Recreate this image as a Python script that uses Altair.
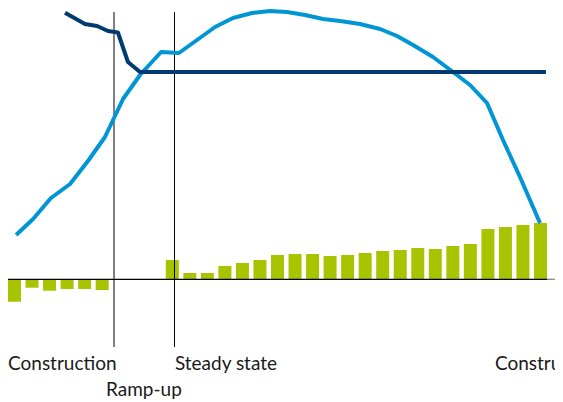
import altair as alt
import pandas as pd

# ---- data (x in period units, y in value units; baseline = 0) ----
bar_period = [0, 1, 2, 3, 4, 5, 9, 10, 11, 12, 13, 14, 15, 16, 17, 18, 19, 20,
              21, 22, 23, 24, 25, 26, 27, 28, 29, 30]
bar_value = [-22.4, -8.4, -11.4, -9.7, -9.7, -10.7, 19.3, 6.3, 6.3, 13.3, 16.3,
             19.3, 24.3, 25.3, 25.3, 23.3, 24.3, 26.3, 28.3, 29.3, 31.3, 30.3,
             33.3, 35.3, 50.3, 52.3, 54.3, 56.3]

light_x = [0.09, 1.06, 2.08, 3.17, 4.19, 5.16, 6.19, 7.16, 8.36, 9.38, 11.44,
           12.46, 13.55, 14.57, 15.54, 16.57, 17.6, 18.57, 19.71, 20.85, 21.82,
           22.73, 23.87, 25.01, 25.98, 26.95, 27.86, 28.83, 29.97]
light_y = [44.3, 60.3, 81.3, 95.3, 118.3, 142.3, 180.3, 204.3, 227.3, 226.3,
           252.3, 261.3, 266.3, 268.3, 267.3, 264.3, 260.3, 258.3, 255.3, 250.3,
           243.3, 234.3, 222.3, 207.3, 194.3, 176.3, 139.3, 102.3, 56.3]

dark_x = [2.88, 4.02, 4.71, 5.33, 5.9, 6.47, 7.16, 30.31]
dark_y = [266.6, 255.3, 253.3, 248.3, 246.8, 217.3, 207.3, 207.3]

phase_lines = [5.675, 9.125]
phase_top, phase_bottom = 267.3, -67.7

labels = ["Construction", "Ramp-up", "Steady state", "Construction"]
label_x = [-0.37, 5.22, 9.15, 27.4]
label_y = [-90.7, -116.7, -90.7, -90.7]

X0, X1 = -0.3707, 30.827
Y0, Y1 = -122.7, 271.3

GREEN = "#a8c400"
LIGHT = "#0096d6"
DARK = "#003a70"

xs = alt.Scale(domain=[X0, X1], nice=False, zero=False, padding=0)
ys = alt.Scale(domain=[Y0, Y1], nice=False, zero=False, padding=0)

bars_df = pd.DataFrame({"x": bar_period, "y": bar_value, "base": [0] * len(bar_period)})
light_df = pd.DataFrame({"x": light_x, "y": light_y, "o": list(range(len(light_x)))})
dark_df = pd.DataFrame({"x": dark_x, "y": dark_y, "o": list(range(len(dark_x)))})
phase_df = pd.DataFrame({"x": phase_lines, "y": [phase_top] * 2, "y2": [phase_bottom] * 2})
base_df = pd.DataFrame({"x": [X0, 30.4], "x2": [30.4, X1], "y": [0, 0],
                        "c": ["black", "gray"]})
label_df = pd.DataFrame({"label": labels, "x": label_x, "y": label_y})

X = lambda f="x": alt.X(f"{f}:Q", scale=xs, axis=None)
Y = lambda f="y": alt.Y(f"{f}:Q", scale=ys, axis=None)

bars = alt.Chart(bars_df).mark_bar(size=13, color=GREEN).encode(
    x=X(), y=Y(), y2="base:Q")

baseline = alt.Chart(base_df).mark_rule(strokeWidth=1.3).encode(
    x=X(), x2="x2:Q", y=Y(),
    color=alt.Color("c:N", scale=alt.Scale(domain=["black", "gray"],
                                           range=["#000000", "#8a8a8a"]), legend=None))

phases = alt.Chart(phase_df).mark_rule(color="black", strokeWidth=1).encode(
    x=X(), y=Y(), y2="y2:Q")

light = alt.Chart(light_df).mark_line(color=LIGHT, strokeWidth=4, strokeJoin="round").encode(
    x=X(), y=Y(), order="o:Q")

dark = alt.Chart(dark_df).mark_line(color=DARK, strokeWidth=4, strokeJoin="round").encode(
    x=X(), y=Y(), order="o:Q")

text = alt.Chart(label_df).mark_text(
    align="left", baseline="alphabetic", font="Lato", fontSize=19, color="#1a1a1a"
).encode(x=X(), y=Y(), text="label:N")

chart = alt.layer(bars, baseline, phases, light, dark, text).properties(
    width=547, height=394, padding=0,
    autosize=alt.AutoSizeParams(type="none"),
).configure_view(strokeWidth=0)

chart.save("out.html", embed_options={"renderer": "svg", "actions": False})
